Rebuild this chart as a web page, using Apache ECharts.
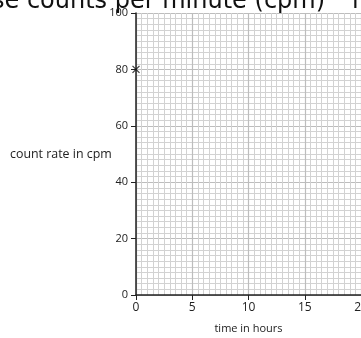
<!DOCTYPE html>
<html>
<head>
<meta charset="utf-8">
<script src="https://cdn.jsdelivr.net/npm/echarts@6/dist/echarts.min.js"></script>
<style>html,body{margin:0;padding:0;background:#fff;}#c{width:361px;height:338px;}</style>
</head>
<body>
<div id="c"></div>
<script>
var titleText = 'se counts per minute (cpm)';
var titleTail = 'i';
var xName = 'time in hours';
var yName = 'count rate in cpm';
var xRange = [0, 20];
var yRange = [0, 100];
var pointX = [0];
var pointY = [80];

var chart = echarts.init(document.getElementById('c'), null, {renderer: 'canvas'});
var lab = {fontFamily: 'Open Sans', fontSize: 11, color: '#222'};
chart.setOption({
  animation: false,
  backgroundColor: '#fff',
  graphic: [
    {type: 'text', left: -8, top: -10, style: {text: titleText, font: '24px "DejaVu Sans"', fill: '#111'}},
    {type: 'text', left: 352, top: -10, style: {text: titleTail, font: '24px "DejaVu Sans"', fill: '#111'}},
    {type: 'text', left: 10, top: 148, style: {text: yName, font: '12.4px "Open Sans"', fill: '#222'}}
  ],
  grid: {left: 136, right: 0, top: 13, bottom: 43, containLabel: false, outerBoundsMode: 'none'},
  xAxis: {
    type: 'value', min: xRange[0], max: xRange[1], interval: 5,
    name: xName, nameLocation: 'middle', nameGap: 28,
    nameTextStyle: lab,
    axisLine: {show: true, onZero: false, lineStyle: {color: '#222', width: 1.5}},
    axisTick: {show: true, length: 5, lineStyle: {color: '#222'}},
    axisLabel: Object.assign({margin: 7, hideOverlap: false}, lab, {fontSize: 12}),
    splitLine: {show: true, lineStyle: {color: '#bdbdbd', width: 1.2}},
    minorTick: {show: false, splitNumber: 10},
    minorSplitLine: {show: true, lineStyle: {color: '#d2d2d2', width: 1}}
  },
  yAxis: {
    type: 'value', min: yRange[0], max: yRange[1], interval: 20,
    axisLine: {show: true, onZero: false, lineStyle: {color: '#222', width: 1.5}},
    axisTick: {show: true, length: 5, lineStyle: {color: '#222'}},
    axisLabel: Object.assign({margin: 8}, lab),
    splitLine: {show: true, lineStyle: {color: '#bdbdbd', width: 1.2}},
    minorTick: {show: false, splitNumber: 10},
    minorSplitLine: {show: true, lineStyle: {color: '#d2d2d2', width: 1}}
  },
  series: [{
    type: 'scatter',
    data: pointX.map(function (x, i) { return [x, pointY[i]]; }),
    symbol: 'path://M0,0L10,10M10,0L0,10',
    symbolSize: 7,
    clip: false,
    itemStyle: {color: 'none', borderColor: '#111', borderWidth: 1.3}
  }]
});
</script>
</body>
</html>
